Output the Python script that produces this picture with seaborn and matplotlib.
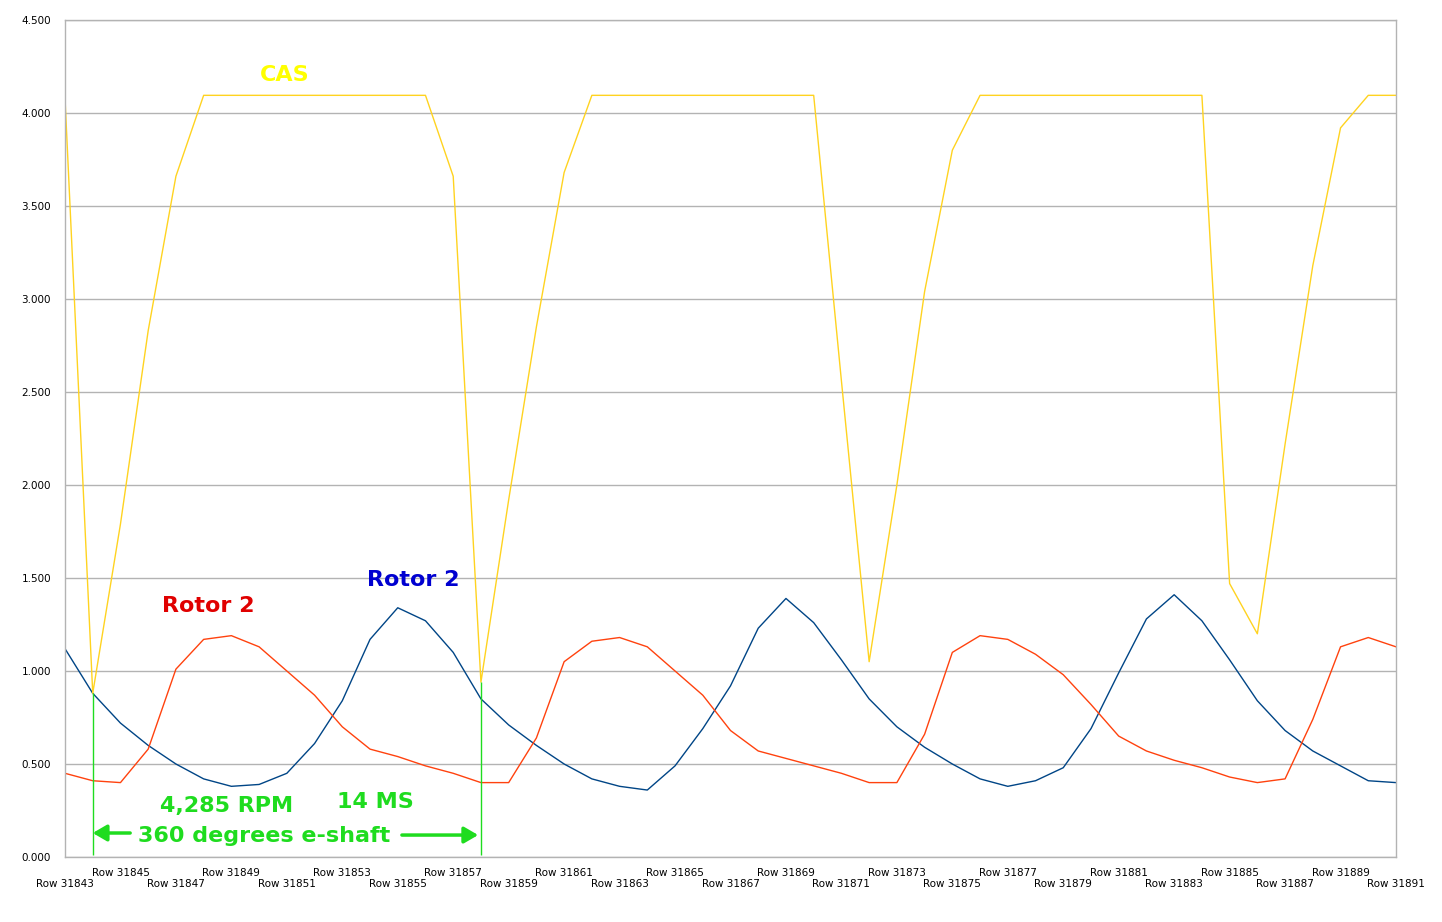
import matplotlib
matplotlib.use("Agg")
import matplotlib.pyplot as plt
import seaborn as sns
import pandas as pd
import numpy as np

# ---------------- data ----------------
row_numbers = list(range(31843, 31892))

rotor2_blue = [1.12, 0.88, 0.72, 0.60, 0.50, 0.42, 0.38, 0.39, 0.45, 0.61,
               0.84, 1.17, 1.34, 1.27, 1.10, 0.85, 0.71, 0.60, 0.50, 0.42,
               0.38, 0.36, 0.49, 0.69, 0.92, 1.23, 1.39, 1.26, 1.06, 0.85,
               0.70, 0.59, 0.50, 0.42, 0.38, 0.41, 0.48, 0.69, 0.99, 1.28,
               1.41, 1.27, 1.06, 0.84, 0.68, 0.57, 0.49, 0.41, 0.40]

rotor2_red = [0.45, 0.41, 0.40, 0.58, 1.01, 1.17, 1.19, 1.13, 1.00, 0.87,
              0.70, 0.58, 0.54, 0.49, 0.45, 0.40, 0.40, 0.64, 1.05, 1.16,
              1.18, 1.13, 1.00, 0.87, 0.68, 0.57, 0.53, 0.49, 0.45, 0.40,
              0.40, 0.66, 1.10, 1.19, 1.17, 1.09, 0.98, 0.82, 0.65, 0.57,
              0.52, 0.48, 0.43, 0.40, 0.42, 0.74, 1.13, 1.18, 1.13]

cas = [4.08, 0.88, 1.79, 2.83, 3.66, 4.095, 4.095, 4.095, 4.095, 4.095,
       4.095, 4.095, 4.095, 4.095, 3.66, 0.94, 1.92, 2.85, 3.68, 4.095,
       4.095, 4.095, 4.095, 4.095, 4.095, 4.095, 4.095, 4.095, 2.56, 1.05,
       2.00, 3.04, 3.80, 4.095, 4.095, 4.095, 4.095, 4.095, 4.095, 4.095,
       4.095, 4.095, 1.47, 1.20, 2.22, 3.18, 3.92, 4.095, 4.095]

y_ticks = [0.0, 0.5, 1.0, 1.5, 2.0, 2.5, 3.0, 3.5, 4.0, 4.5]
cycle_marks = [1, 15]   # rows where the green markers sit

# ---------------- styling ----------------
sns.set_style("white")
plt.rcParams['font.family'] = ['DejaVu Sans']

GRID = "#b3b3b3"
GREEN = "#1fdc1f"

fig = plt.figure(figsize=(14.42, 9.22), dpi=100)
ax = fig.add_axes([65 / 1442, 1 - 857 / 922, (1396 - 65) / 1442, (857 - 20) / 922])

idx = list(range(len(row_numbers)))
df = pd.DataFrame({"idx": idx,
                   "Rotor 2 blue": rotor2_blue,
                   "Rotor 2 red": rotor2_red,
                   "CAS": cas})
long = df.melt(id_vars="idx", var_name="series", value_name="value")
palette = {"Rotor 2 blue": "#004586", "Rotor 2 red": "#ff420e", "CAS": "#ffd320"}
sns.lineplot(data=long, x="idx", y="value", hue="series",
             hue_order=["Rotor 2 blue", "Rotor 2 red", "CAS"],
             palette=palette, linewidth=1.0, legend=False, ax=ax)

ax.set_xlim(0, len(row_numbers) - 1)
ax.set_ylim(0, 4.5)
ax.set_xlabel("")
ax.set_ylabel("")

ax.set_yticks(y_ticks)
ax.set_yticklabels([f"{v:.3f}" for v in y_ticks])
ax.yaxis.grid(True, color=GRID, linewidth=1.0)
ax.xaxis.grid(False)
ax.set_axisbelow(True)

# upper-row labels on major ticks, lower-row labels (and unlabeled ticks) on minor ticks
upper_pos = [i for i in idx if i % 4 == 2]
minor_pos = [i for i in idx if i % 4 != 2]
ax.set_xticks(upper_pos)
ax.set_xticklabels([f"Row {row_numbers[i]}" for i in upper_pos])
ax.set_xticks(minor_pos, minor=True)
ax.set_xticklabels([f"Row {row_numbers[i]}" if i % 4 == 0 else "" for i in minor_pos], minor=True)

ax.tick_params(axis="both", which="both", direction="out", colors=GRID,
               labelcolor="black", labelsize=7.5, width=1.0)
ax.tick_params(axis="x", which="major", length=6, pad=2)
ax.tick_params(axis="x", which="minor", length=6, pad=9.5)
ax.tick_params(axis="y", length=7, pad=3)

for s in ax.spines.values():
    s.set_color(GRID)
    s.set_linewidth(1.0)

# ---------------- annotations ----------------
ax.vlines(cycle_marks, 0.01, [cas[i] for i in cycle_marks], color=GREEN, linewidth=1.0, zorder=5)

bold = dict(fontweight="bold", fontsize=16, ha="center", va="baseline")
ax.text(7.92, 4.172, "CAS", color="#ffff00", **bold)
ax.text(5.17, 1.317, "Rotor 2", color="#e00000", **bold)
ax.text(12.55, 1.457, "Rotor 2", color="#0000d0", **bold)
ax.text(5.84, 0.242, "4,285 RPM", color=GREEN, **bold)
ax.text(11.18, 0.263, "14 MS", color=GREEN, **bold)
ax.text(7.19, 0.081, "360 degrees e-shaft", color=GREEN, **bold)

arrow = dict(arrowstyle="-|>,head_length=0.6,head_width=0.35", color=GREEN,
             lw=2.5, mutation_scale=14, shrinkA=0, shrinkB=0)
ax.annotate("", xy=(1.0, 0.129), xytext=(2.35, 0.129), arrowprops=arrow)
ax.annotate("", xy=(14.9, 0.118), xytext=(12.15, 0.118), arrowprops=arrow)

fig.savefig("out.png", dpi=100)
